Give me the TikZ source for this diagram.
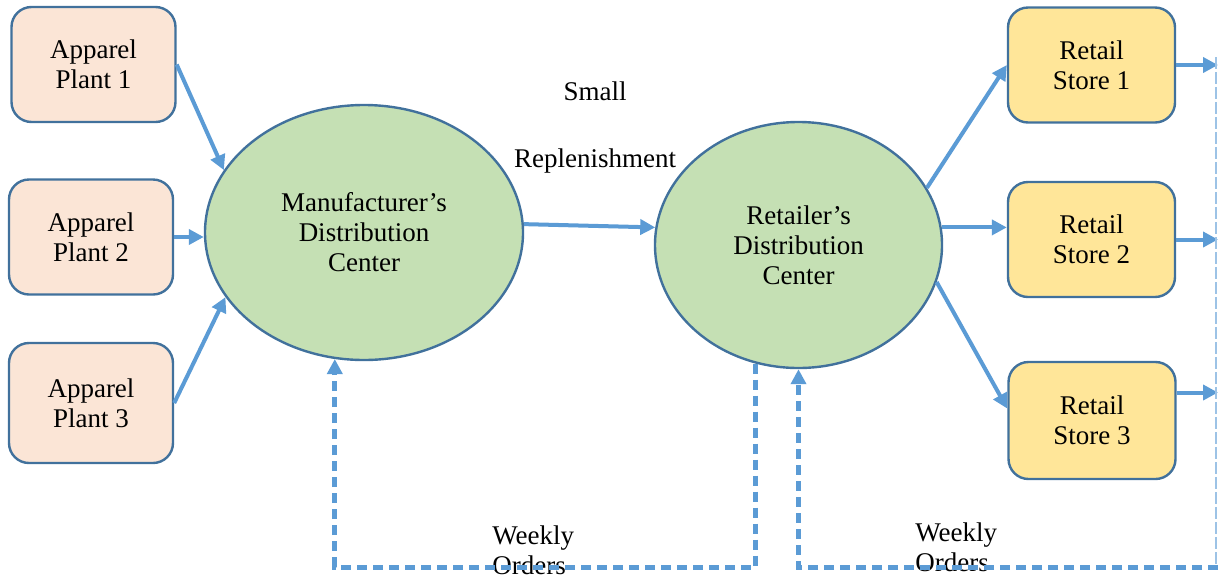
\documentclass[tikz,border=0pt]{standalone}
\usepackage{fontspec}
\setmainfont{Liberation Serif}
\usetikzlibrary{arrows.meta,positioning,shapes.geometric}
\definecolor{plantclr}{HTML}{FBE5D6}
\definecolor{storeclr}{HTML}{FFE699}
\definecolor{dcclr}{HTML}{C5E0B4}
\definecolor{bordclr}{HTML}{41719C}
\definecolor{arrclr}{HTML}{5B9BD5}
\definecolor{guideclr}{HTML}{9DC3E6}
\tikzset{ %
  ,>={Triangle[length=7.5pt,width=7.5pt]}
  ,every node/.style={font=\fontsize{13.5}{15}\selectfont}
  ,plant/.style={draw=bordclr, line width=1.2pt, rounded corners=10pt, fill=plantclr, minimum width=82pt, minimum height=57.5pt, align=center}
  ,store/.style={draw=bordclr, line width=1.2pt, rounded corners=10pt, fill=storeclr, minimum width=83.5pt, minimum height=57.5pt, align=center}
  ,dc/.style={draw=bordclr, line width=1.2pt, ellipse, inner sep=0, fill=dcclr, align=center}
  ,flow/.style={->, draw=arrclr, line width=2pt}
  ,order/.style={->, draw=arrclr, line width=2.5pt, dash pattern=on 5pt off 3pt}
  ,guide/.style={draw=guideclr, line width=0.7pt, dash pattern=on 6pt off 1.5pt}
  ,lbl/.style={inner sep=0}
}
\begin{document}
\begin{tikzpicture}[x=0.5pt, y=-0.5pt]
      \useasboundingbox (0,0) rectangle (1218,574);
      \draw 
      node[plant] (P1) at (93.5,64.5) {Apparel\\Plant 1} 
      node[plant] (P2) at (91,237) {Apparel\\Plant 2} 
      node[plant, minimum height=60pt] (P3) at (91,403) {Apparel\\Plant 3} 
      node[dc, minimum width=159pt, minimum height=127.5pt] (MDC) at (364,232.5) {Manufacturer’s\\Distribution\\Center} 
      node[dc, minimum width=143.5pt, minimum height=123pt] (RDC) at (798.5,245) {Retailer’s\\Distribution\\Center} 
      node[store] (S1) at (1091.5,65) {Retail\\Store 1} 
      node[store] (S2) at (1091.5,239.5) {Retail\\Store 2} 
      node[store, minimum height=58.5pt] (S3) at (1092,420.5) {Retail\\Store 3} 
      node[lbl, align=center] (SR) at (595,127) {Small\\[18.5pt]Replenishment} 
      node[lbl, align=left, anchor=west] (WO1) at (492,550) {Weekly\\Orders} 
      node[lbl, align=left, anchor=west] (WO2) at (915,547) {Weekly\\Orders};
      \coordinate (RT) at (1216,57);
      \coordinate (RB) at (1218,567);
      \coordinate (OB) at (545,567);
      % solid flows
      \draw [flow] (P1.east) -- (MDC.156);
      \draw [flow] (P2.east) -- (P2.east -| MDC.west);
      \draw [flow] (P3.east) -- (MDC.205);
      \draw [flow] (MDC.3) -- (RDC.173);
      \draw [flow] (RDC.24) -- (S1.west);
      \draw [flow] (RDC.7) -- (RDC.7 -| S2.west);
      \draw [flow] (RDC.-15) -- (S3.172);
      \draw [flow] (S1.east) -- (S1.east -| RB);
      \draw [flow] (S2.east) -- (S2.east -| RB);
      \draw [flow] ([yshift=14pt]S3.east) -- ([yshift=14pt]S3.east -| RB);
      % weekly orders
      \draw [guide] (RT) -- (RT |- RB);
      \draw [order] (RDC.250) |- (OB) -| (MDC.257);
      \draw [order] (RB) -| (RDC.south);
    \end{tikzpicture}
\end{document}
